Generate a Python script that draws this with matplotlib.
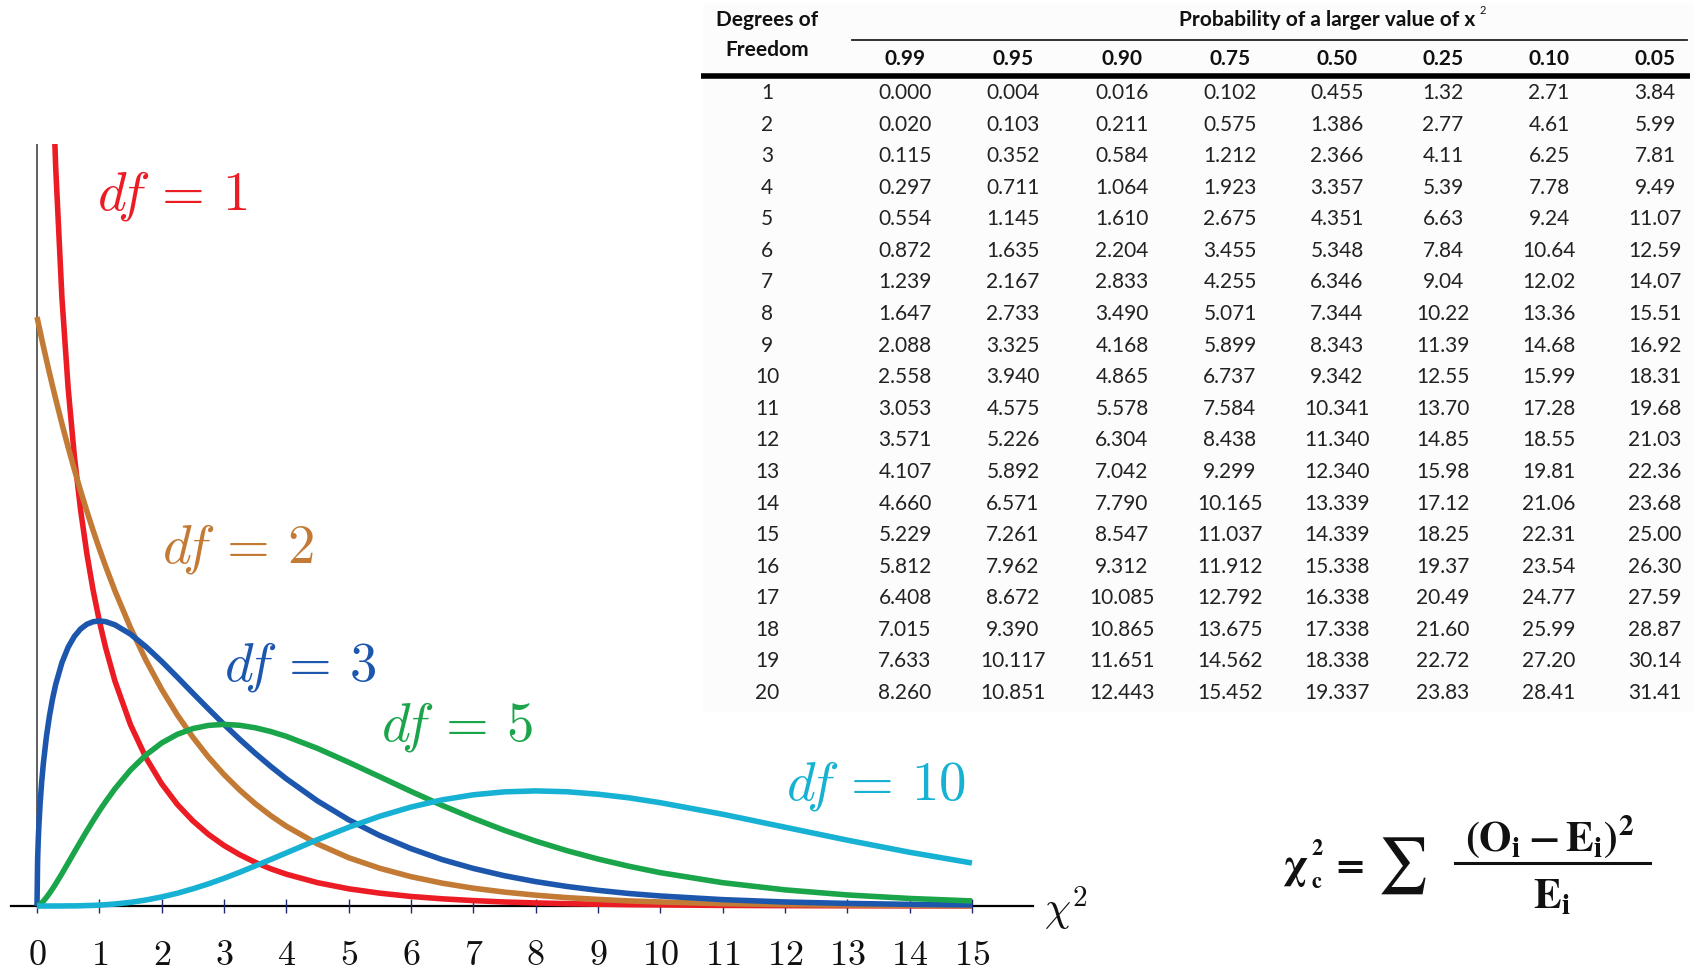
import matplotlib
matplotlib.use("Agg")
import matplotlib.pyplot as plt
import numpy as np

# ---------------------------------------------------------------
# chi-square densities, sampled at chi2 values
chi2_x = [0, 0.01, 0.02, 0.03, 0.05, 0.075, 0.1, 0.15, 0.2, 0.25, 0.3, 0.4,
          0.5, 0.6, 0.7, 0.8, 0.9, 1.0, 1.1, 1.25, 1.5, 1.75, 2.0, 2.25, 2.5,
          2.75, 3.0, 3.25, 3.5, 3.75, 4.0, 4.5, 5.0, 5.5, 6.0, 6.5, 7.0, 7.5,
          8.0, 8.5, 9.0, 9.5, 10, 11, 12, 13, 14, 15]

dens_df1 = [np.nan, 3.9695, 2.7929, 2.2690, 1.740, 1.4031, 1.2001, 0.9556,
            0.8072, 0.7041, 0.6269, 0.5164, 0.4394, 0.3815, 0.3360, 0.2990,
            0.2681, 0.2420, 0.2195, 0.1910, 0.1539, 0.1257, 0.1038, 0.0863,
            0.0723, 0.0608, 0.0514, 0.0436, 0.0371, 0.0316, 0.0270, 0.0198,
            0.0146, 0.0109, 0.0081, 0.0061, 0.0046, 0.0034, 0.0026, 0.0020,
            0.0015, 0.0011, 0.0009, 0.0005, 0.0003, 0.0002, 0.0001, 0.0001]
dens_df2 = [0.500, 0.4975, 0.4950, 0.4926, 0.4877, 0.4816, 0.4756, 0.4639,
            0.4524, 0.4413, 0.4304, 0.4094, 0.3894, 0.3704, 0.3523, 0.3352,
            0.3188, 0.3033, 0.2885, 0.2676, 0.2362, 0.2084, 0.1839, 0.1623,
            0.1433, 0.1264, 0.1116, 0.0985, 0.0869, 0.0767, 0.0677, 0.0527,
            0.0410, 0.0320, 0.0249, 0.0194, 0.0151, 0.0118, 0.0092, 0.0071,
            0.0056, 0.0043, 0.0034, 0.0020, 0.0012, 0.0008, 0.0005, 0.0003]
dens_df3 = [0.0, 0.0397, 0.0559, 0.0681, 0.0870, 0.1052, 0.1200, 0.1433,
            0.1614, 0.1760, 0.1881, 0.2066, 0.2197, 0.2289, 0.2352, 0.2392,
            0.2413, 0.2420, 0.2414, 0.2387, 0.2308, 0.2200, 0.2076, 0.1943,
            0.1807, 0.1673, 0.1542, 0.1416, 0.1297, 0.1185, 0.1080, 0.0892,
            0.0732, 0.0598, 0.0487, 0.0394, 0.0319, 0.0257, 0.0207, 0.0166,
            0.0133, 0.0106, 0.0085, 0.0054, 0.0034, 0.0022, 0.0014, 0.0009]
dens_df5 = [0.0, 0.0001, 0.0004, 0.0007, 0.0015, 0.0026, 0.0040, 0.0072,
            0.0108, 0.0147, 0.0188, 0.0275, 0.0366, 0.0458, 0.0549, 0.0638,
            0.0724, 0.0807, 0.0885, 0.0995, 0.1154, 0.1283, 0.1384, 0.1457,
            0.1506, 0.1533, 0.1542, 0.1534, 0.1513, 0.1481, 0.1440, 0.1338,
            0.1220, 0.1097, 0.0973, 0.0854, 0.0744, 0.0642, 0.0551, 0.0470,
            0.0399, 0.0337, 0.0283, 0.0198, 0.0137, 0.0094, 0.0064, 0.0043]
dens_df10 = [0.0, 0.0, 0.0, 0.0, 0.0, 0.0, 0.0, 0.0,
             0.0, 0.0, 0.0, 0.0, 0.0001, 0.0001, 0.0002, 0.0004,
             0.0005, 0.0008, 0.0011, 0.0017, 0.0031, 0.0051, 0.0077, 0.0108,
             0.0146, 0.0188, 0.0235, 0.0286, 0.0340, 0.0395, 0.0451, 0.0563,
             0.0668, 0.0762, 0.0840, 0.0901, 0.0944, 0.0969, 0.0977, 0.0970,
             0.0949, 0.0918, 0.0877, 0.0779, 0.0669, 0.0559, 0.0456, 0.0365]

curve_labels = ['1', '2', '3', '5', '10']
curve_colors = ['#ec1c24', '#c27a34', '#1d57ad', '#1aa54a', '#16b1d3']
x_ticks = list(range(16))

# ---------------------------------------------------------------
# critical value table
table_probs = ['0.99', '0.95', '0.90', '0.75', '0.50', '0.25', '0.10', '0.05']
table_df = [str(d) for d in range(1, 21)]
col_099 = ['0.000', '0.020', '0.115', '0.297', '0.554', '0.872', '1.239', '1.647',
           '2.088', '2.558', '3.053', '3.571', '4.107', '4.660', '5.229', '5.812',
           '6.408', '7.015', '7.633', '8.260']
col_095 = ['0.004', '0.103', '0.352', '0.711', '1.145', '1.635', '2.167', '2.733',
           '3.325', '3.940', '4.575', '5.226', '5.892', '6.571', '7.261', '7.962',
           '8.672', '9.390', '10.117', '10.851']
col_090 = ['0.016', '0.211', '0.584', '1.064', '1.610', '2.204', '2.833', '3.490',
           '4.168', '4.865', '5.578', '6.304', '7.042', '7.790', '8.547', '9.312',
           '10.085', '10.865', '11.651', '12.443']
col_075 = ['0.102', '0.575', '1.212', '1.923', '2.675', '3.455', '4.255', '5.071',
           '5.899', '6.737', '7.584', '8.438', '9.299', '10.165', '11.037', '11.912',
           '12.792', '13.675', '14.562', '15.452']
col_050 = ['0.455', '1.386', '2.366', '3.357', '4.351', '5.348', '6.346', '7.344',
           '8.343', '9.342', '10.341', '11.340', '12.340', '13.339', '14.339', '15.338',
           '16.338', '17.338', '18.338', '19.337']
col_025 = ['1.32', '2.77', '4.11', '5.39', '6.63', '7.84', '9.04', '10.22',
           '11.39', '12.55', '13.70', '14.85', '15.98', '17.12', '18.25', '19.37',
           '20.49', '21.60', '22.72', '23.83']
col_010 = ['2.71', '4.61', '6.25', '7.78', '9.24', '10.64', '12.02', '13.36',
           '14.68', '15.99', '17.28', '18.55', '19.81', '21.06', '22.31', '23.54',
           '24.77', '25.99', '27.20', '28.41']
col_005 = ['3.84', '5.99', '7.81', '9.49', '11.07', '12.59', '14.07', '15.51',
           '16.92', '18.31', '19.68', '21.03', '22.36', '23.68', '25.00', '26.30',
           '27.59', '28.87', '30.14', '31.41']
table_cols = [col_099, col_095, col_090, col_075, col_050, col_025, col_010, col_005]

W, H = 1696, 972
fig = plt.figure(figsize=(W / 100, H / 100), dpi=100)

# full-figure overlay in pixel units (table + formula)
ov = fig.add_axes([0, 0, 1, 1])
ov.set_xlim(0, W)
ov.set_ylim(H, 0)
ov.axis('off')

# ---------------------------------------------------------------
# density plot
X0, UX = 37, 62.33      # pixel of chi2=0, pixels per unit
Y0, UY = 906, 1178      # pixel of density 0, pixels per unit
ax_right, ax_top = 1100, 144
ax = fig.add_axes([0, 0, ax_right / W, (H - ax_top) / H])
ax.set_xlim(-X0 / UX, (ax_right - X0) / UX)
ax.set_ylim((Y0 - H) / UY, (Y0 - ax_top) / UY)
ax.axis('off')

ax.plot([0, 0], [0, (Y0 - ax_top) / UY], color='#444444', lw=1.2, zorder=1)
ax.plot([-0.42, 15.98], [0, 0], color='black', lw=1.6, zorder=1)
ax.vlines(x_ticks, -0.006, 0.006, color='#1f2a6e', lw=1.0, zorder=1)

curves = [dens_df1, dens_df2, dens_df3, dens_df5, dens_df10]
for dens, col in zip(curves, curve_colors):
    ax.plot(chi2_x, dens, color=col, lw=4.0, solid_capstyle='butt',
            solid_joinstyle='round', zorder=2)

for t in x_ticks:
    ax.text(t, -0.042, r'$%d$' % t, ha='center', va='center', fontsize=26,
            math_fontfamily='cm', color='#111111')

ax.text(16.15, -0.002, r'$\chi^2$', ha='left', va='center', fontsize=30,
        math_fontfamily='cm', color='#111111', clip_on=False)

# label anchors (left edge, vertical centre) in data units
label_x = [0.96, 2.0, 3.0, 5.52, 12.02]
label_y = [0.603, 0.303, 0.203, 0.152, 0.102]
for lab, col, lx, ly in zip(curve_labels, curve_colors, label_x, label_y):
    ax.text(lx, ly, r'$d\!f\,=\,%s$' % lab, color=col, fontsize=39.5,
            ha='left', va='center', math_fontfamily='cm', clip_on=False)

# ---------------------------------------------------------------
# table
tab_font = ['Lato', 'DejaVu Sans']
ov.add_patch(plt.Rectangle((703, 4), 990, 706, color='#fcfcfc', zorder=0))

col_x = [905, 1013, 1122, 1230, 1337, 1443, 1549, 1655]
df_x = 767
row0_y, row_dy = 93, 31.58

ov.text(df_x, 20, 'Degrees of', ha='center', va='center', fontsize=15,
        fontweight='bold', family=tab_font, color='#111111')
ov.text(df_x, 50, 'Freedom', ha='center', va='center', fontsize=15,
        fontweight='bold', family=tab_font, color='#111111')
ov.text(1327, 20, 'Probability of a larger value of x', ha='center', va='center',
        fontsize=15, fontweight='bold', family=tab_font, color='#111111')
ov.text(1480, 10, '2', ha='left', va='center', fontsize=8,
        family=tab_font, color='#111111')
ov.plot([852, 1687], [40, 40], color='#222222', lw=1.3)
ov.plot([701, 1690], [76, 76], color='black', lw=4.0, solid_capstyle='butt')

for p, cx in zip(table_probs, col_x):
    ov.text(cx, 59, p, ha='center', va='center', fontsize=15, fontweight='bold',
            family=tab_font, color='#111111')

for i, d in enumerate(table_df):
    y = row0_y + i * row_dy
    ov.text(df_x, y, d, ha='center', va='center', fontsize=15,
            family=tab_font, color='#222222')
    for col, cx in zip(table_cols, col_x):
        ov.text(cx, y, col[i], ha='center', va='center', fontsize=15,
                family=tab_font, color='#222222')

# ---------------------------------------------------------------
# chi-square statistic
fml = dict(math_fontfamily='stix', color='#111111', va='center')
ov.text(1282, 868, r'$\mathbf{\chi}$', ha='left', fontsize=30, **fml)
ov.text(1311, 849, r'$\mathbf{2}$', ha='left', fontsize=16, **fml)
ov.text(1311, 882, r'$\mathbf{c}$', ha='left', fontsize=16, **fml)
ov.text(1347, 864, r'$\mathbf{=}$', ha='center', fontsize=28, **fml)
ov.text(1402, 866, r'$\sum$', ha='center', fontsize=40, **fml)
ov.text(1550, 836, r'$\mathbf{(O_{i}-E_{i})^{2}}$', ha='center', fontsize=30, **fml)
ov.plot([1455, 1650], [863, 863], color='#111111', lw=2.2)
ov.text(1552, 896, r'$\mathbf{E_{i}}$', ha='center', fontsize=30, **fml)

fig.savefig('out.png', dpi=100)
